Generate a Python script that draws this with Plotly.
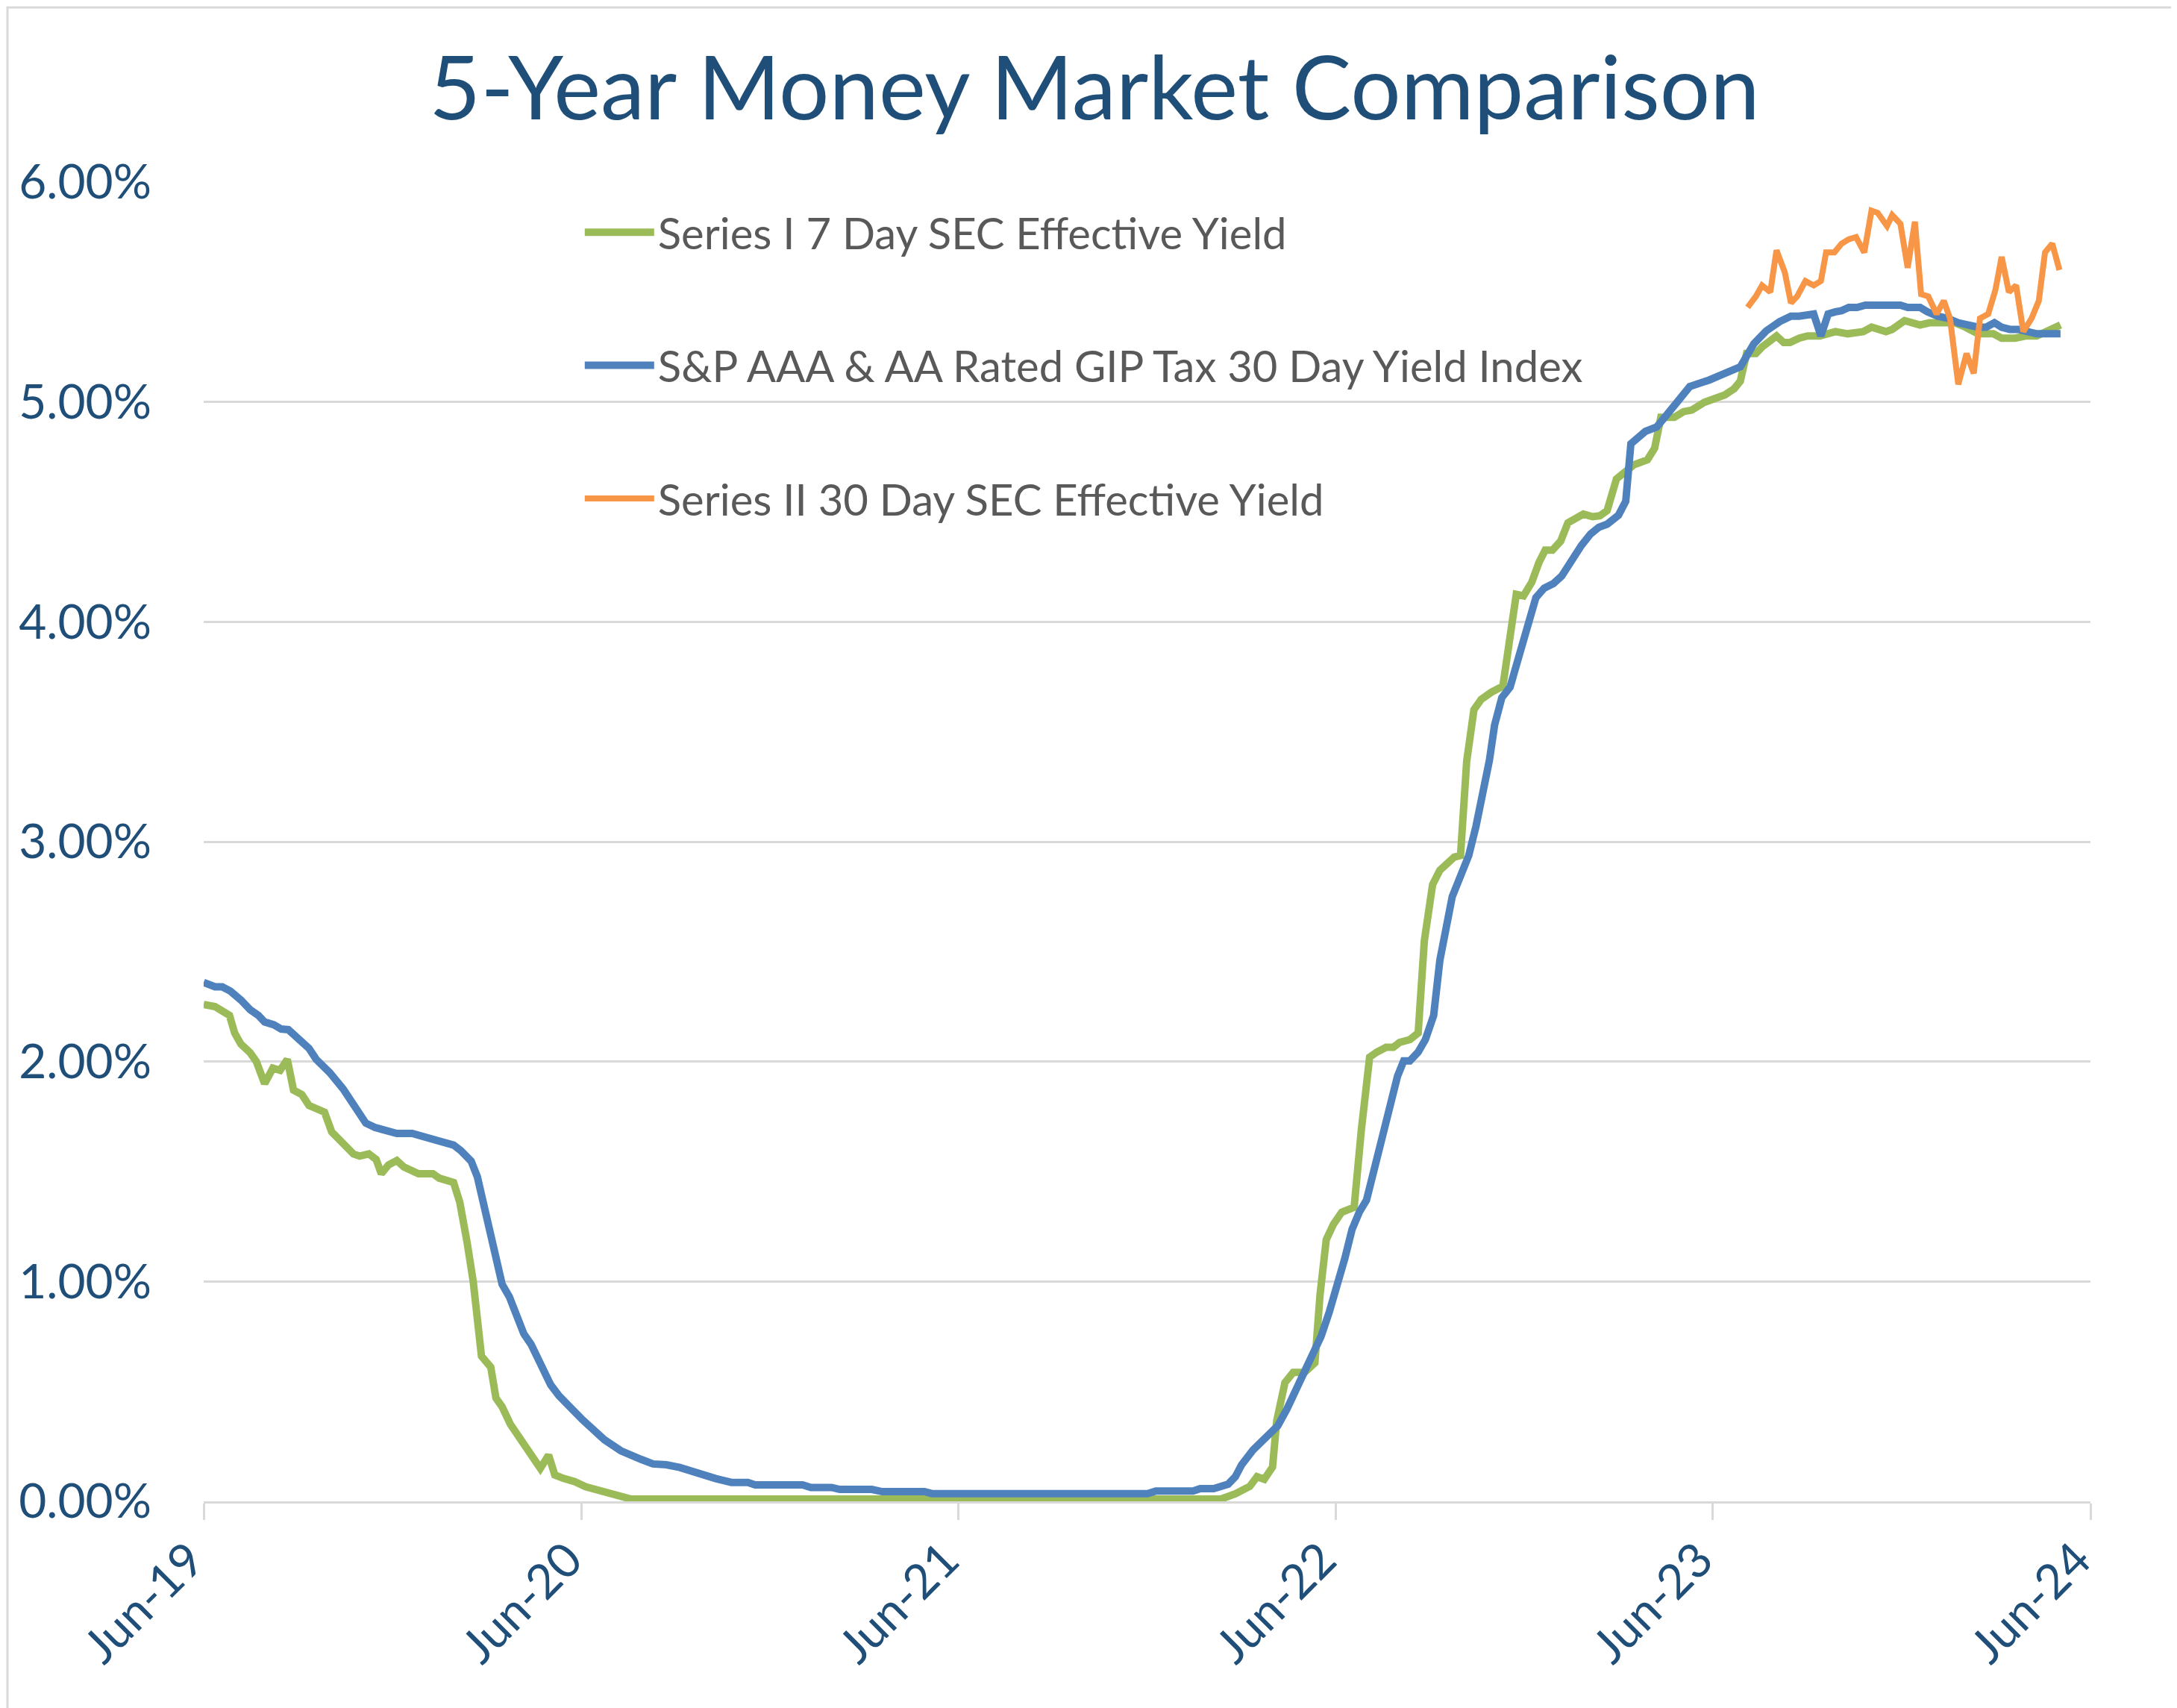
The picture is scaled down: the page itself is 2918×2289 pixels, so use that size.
import plotly.graph_objects as go

TITLE = "5-Year Money Market Comparison"

# x axis ticks
tick_dates = ["2019-06-01", "2020-06-01", "2021-06-01", "2022-06-01", "2023-06-01", "2024-06-01"]
tick_labels = ["Jun-19", "Jun-20", "Jun-21", "Jun-22", "Jun-23", "Jun-24"]

# Series I 7 Day SEC Effective Yield (%)
series1_dates = [
    "2019-06-01", "2019-06-12", "2019-06-19", "2019-06-26", "2019-07-01", "2019-07-07", "2019-07-16",
    "2019-07-22", "2019-07-30", "2019-08-07", "2019-08-14", "2019-08-21", "2019-08-27", "2019-09-04",
    "2019-09-11", "2019-09-18", "2019-09-26", "2019-10-03", "2019-10-11", "2019-10-24", "2019-10-30",
    "2019-11-08", "2019-11-15", "2019-11-20", "2019-11-27", "2019-12-05", "2019-12-12", "2019-12-18",
    "2019-12-26", "2020-01-09", "2020-01-15", "2020-01-29", "2020-02-04", "2020-02-11", "2020-02-17",
    "2020-02-25", "2020-03-05", "2020-03-10", "2020-03-16", "2020-03-24", "2020-04-08", "2020-04-22",
    "2020-04-30", "2020-05-06", "2020-05-14", "2020-05-25", "2020-06-05", "2020-06-28", "2020-07-14",
    "2020-07-19", "2022-02-10", "2022-02-24", "2022-03-10", "2022-03-17", "2022-03-24", "2022-04-01",
    "2022-04-05", "2022-04-13", "2022-04-21", "2022-05-02", "2022-05-12", "2022-05-17", "2022-05-23",
    "2022-05-30", "2022-06-07", "2022-06-19", "2022-06-26", "2022-07-04", "2022-07-11", "2022-07-20",
    "2022-07-27", "2022-08-02", "2022-08-12", "2022-08-20", "2022-08-26", "2022-09-03", "2022-09-10",
    "2022-09-17", "2022-09-24", "2022-09-30", "2022-10-06", "2022-10-13", "2022-10-20", "2022-10-30",
    "2022-11-10", "2022-11-16", "2022-11-23", "2022-11-30", "2022-12-08", "2022-12-15", "2022-12-21",
    "2022-12-28", "2023-01-05", "2023-01-12", "2023-01-27", "2023-02-05", "2023-02-12", "2023-02-19",
    "2023-02-28", "2023-03-08", "2023-03-17", "2023-03-30", "2023-04-06", "2023-04-12", "2023-04-25",
    "2023-05-04", "2023-05-12", "2023-05-24", "2023-06-03", "2023-06-13", "2023-06-22", "2023-06-28",
    "2023-07-04", "2023-07-13", "2023-07-19", "2023-07-25", "2023-08-02", "2023-08-09", "2023-08-15",
    "2023-08-24", "2023-09-01", "2023-09-13", "2023-09-28", "2023-10-10", "2023-10-25", "2023-11-02",
    "2023-11-16", "2023-11-22", "2023-12-04", "2023-12-19", "2023-12-28", "2024-01-09", "2024-01-22",
    "2024-02-01", "2024-02-13", "2024-02-28", "2024-03-07", "2024-03-20", "2024-03-30", "2024-04-10",
    "2024-04-22", "2024-05-03",
]
series1_yield = [
    2.26, 2.25, 2.23, 2.21, 2.13, 2.08, 2.04,
    2.00, 1.90, 1.97, 1.96, 2.01, 1.87, 1.85,
    1.80, 1.79, 1.77, 1.68, 1.64, 1.58, 1.57,
    1.58, 1.555, 1.49, 1.53, 1.55, 1.52, 1.51,
    1.49, 1.49, 1.47, 1.45, 1.36, 1.18, 1.00,
    0.66, 0.61, 0.47, 0.43, 0.35, 0.24, 0.15,
    0.21, 0.12, 0.105, 0.09, 0.066, 0.034, 0.015,
    0.01, 0.01, 0.034, 0.068, 0.112, 0.10, 0.156,
    0.365, 0.54, 0.586, 0.586, 0.63, 0.94, 1.19,
    1.26, 1.315, 1.337, 1.69, 2.02, 2.043, 2.065,
    2.065, 2.087, 2.10, 2.13, 2.55, 2.805, 2.87,
    2.905, 2.93, 2.937, 3.366, 3.60, 3.647, 3.68,
    3.707, 3.90, 4.125, 4.118, 4.18, 4.27, 4.326,
    4.326, 4.367, 4.45, 4.49, 4.478, 4.482, 4.506,
    4.65, 4.68, 4.714, 4.737, 4.79, 4.93, 4.93,
    4.956, 4.963, 4.998, 5.012, 5.032, 5.06, 5.095,
    5.22, 5.22, 5.25, 5.27, 5.30, 5.27, 5.27,
    5.29, 5.30, 5.30, 5.32, 5.31, 5.32, 5.34,
    5.32, 5.33, 5.37, 5.35, 5.36, 5.36, 5.36,
    5.34, 5.31, 5.31, 5.29, 5.29, 5.30, 5.30,
    5.33, 5.35,
]

# S&P AAA & AA Rated GIP Tax 30 Day Yield Index (%)
index_dates = [
    "2019-06-01", "2019-06-12", "2019-06-19", "2019-06-27", "2019-07-07", "2019-07-16", "2019-07-24",
    "2019-07-30", "2019-08-08", "2019-08-15", "2019-08-22", "2019-09-03", "2019-09-11", "2019-09-18",
    "2019-10-01", "2019-10-14", "2019-10-24", "2019-10-29", "2019-11-05", "2019-11-14", "2019-12-05",
    "2019-12-20", "2019-12-27", "2020-01-10", "2020-01-29", "2020-02-05", "2020-02-15", "2020-02-21",
    "2020-03-01", "2020-03-09", "2020-03-16", "2020-03-23", "2020-03-29", "2020-04-06", "2020-04-13",
    "2020-04-22", "2020-05-02", "2020-05-10", "2020-05-25", "2020-06-02", "2020-06-23", "2020-06-30",
    "2020-07-09", "2020-07-29", "2020-08-09", "2020-08-22", "2020-09-04", "2020-10-09", "2020-10-24",
    "2020-11-09", "2020-11-16", "2021-01-01", "2021-01-09", "2021-01-29", "2021-02-06", "2021-03-09",
    "2021-03-19", "2021-04-29", "2021-05-06", "2021-12-01", "2021-12-09", "2022-01-14", "2022-01-21",
    "2022-02-03", "2022-02-17", "2022-02-24", "2022-03-02", "2022-03-13", "2022-03-21", "2022-04-06",
    "2022-04-15", "2022-04-25", "2022-05-02", "2022-05-09", "2022-05-18", "2022-05-26", "2022-06-02",
    "2022-06-10", "2022-06-17", "2022-06-24", "2022-07-01", "2022-07-09", "2022-07-17", "2022-07-25",
    "2022-07-31", "2022-08-06", "2022-08-12", "2022-08-20", "2022-08-27", "2022-09-04", "2022-09-10",
    "2022-09-22", "2022-10-02", "2022-10-08", "2022-10-15", "2022-10-28", "2022-11-02", "2022-11-09",
    "2022-11-17", "2022-11-30", "2022-12-12", "2022-12-20", "2022-12-29", "2023-01-06", "2023-01-17",
    "2023-01-25", "2023-02-03", "2023-02-11", "2023-02-19", "2023-03-02", "2023-03-09", "2023-03-14",
    "2023-03-28", "2023-04-08", "2023-04-18", "2023-04-29", "2023-05-10", "2023-05-29", "2023-06-07",
    "2023-06-20", "2023-06-28", "2023-07-11", "2023-07-23", "2023-08-05", "2023-08-16", "2023-08-24",
    "2023-09-01", "2023-09-07", "2023-09-14", "2023-09-21", "2023-09-28", "2023-10-04", "2023-10-11",
    "2023-10-19", "2023-10-27", "2023-11-30", "2023-12-07", "2023-12-19", "2023-12-26", "2024-01-05",
    "2024-01-15", "2024-01-25", "2024-02-04", "2024-02-13", "2024-02-21", "2024-02-29", "2024-03-07",
    "2024-03-15", "2024-03-23", "2024-04-01", "2024-04-10", "2024-05-03",
]
index_yield = [
    2.36, 2.34, 2.34, 2.32, 2.28, 2.236, 2.21,
    2.18, 2.167, 2.148, 2.145, 2.09, 2.06, 2.01,
    1.95, 1.876, 1.81, 1.763, 1.72, 1.70, 1.673,
    1.673, 1.663, 1.643, 1.62, 1.595, 1.547, 1.476,
    1.30, 1.139, 0.987, 0.93, 0.858, 0.762, 0.714,
    0.626, 0.53, 0.48, 0.40, 0.37, 0.28, 0.26,
    0.23, 0.19, 0.17, 0.166, 0.154, 0.103, 0.086,
    0.086, 0.075, 0.075, 0.063, 0.063, 0.054, 0.054,
    0.044, 0.044, 0.035, 0.035, 0.047, 0.047, 0.058,
    0.058, 0.078, 0.112, 0.166, 0.233, 0.272, 0.343,
    0.42, 0.52, 0.608, 0.674, 0.75, 0.862, 0.97,
    1.105, 1.237, 1.315, 1.37, 1.513, 1.668, 1.827,
    1.933, 2.003, 2.003, 2.043, 2.10, 2.21, 2.46,
    2.75, 2.87, 2.937, 3.07, 3.37, 3.53, 3.655,
    3.703, 3.91, 4.11, 4.153, 4.174, 4.208, 4.29,
    4.347, 4.40, 4.43, 4.444, 4.485, 4.548, 4.81,
    4.866, 4.886, 4.943, 5.012, 5.07, 5.10, 5.12,
    5.143, 5.16, 5.264, 5.323, 5.365, 5.39, 5.39,
    5.40, 5.40, 5.30, 5.40, 5.41, 5.415, 5.43,
    5.43, 5.44, 5.44, 5.43, 5.43, 5.41, 5.39,
    5.38, 5.36, 5.35, 5.34, 5.34, 5.36, 5.34,
    5.33, 5.33, 5.32, 5.31, 5.31,
]

# Series II 30 Day SEC Effective Yield (%)
series2_dates = [
    "2023-07-05", "2023-07-13", "2023-07-19", "2023-07-27", "2023-08-02", "2023-08-10", "2023-08-16",
    "2023-08-22", "2023-08-30", "2023-09-07", "2023-09-14", "2023-09-19", "2023-09-27", "2023-10-04",
    "2023-10-11", "2023-10-18", "2023-10-26", "2023-11-02", "2023-11-08", "2023-11-17", "2023-11-22",
    "2023-11-30", "2023-12-07", "2023-12-14", "2023-12-20", "2023-12-27", "2024-01-04", "2024-01-11",
    "2024-01-17", "2024-01-25", "2024-02-02", "2024-02-09", "2024-02-15", "2024-02-23", "2024-03-01",
    "2024-03-07", "2024-03-14", "2024-03-21", "2024-03-28", "2024-04-05", "2024-04-12", "2024-04-18",
    "2024-04-25", "2024-05-02",
]
series2_yield = [
    5.43, 5.48, 5.53, 5.50, 5.69, 5.59, 5.45,
    5.48, 5.55, 5.53, 5.55, 5.68, 5.68, 5.72,
    5.74, 5.75, 5.68, 5.87, 5.86, 5.80, 5.85,
    5.81, 5.61, 5.82, 5.49, 5.48, 5.40, 5.46,
    5.38, 5.08, 5.22, 5.13, 5.38, 5.40, 5.51,
    5.66, 5.50, 5.53, 5.32, 5.38, 5.46, 5.68,
    5.72, 5.60,
]

GREEN = "#9BBB59"
BLUE = "#4F81BD"
ORANGE = "#F79646"
DARK_BLUE = "#1F4E79"
GRID = "#D9D9D9"
FONT = "Lato"

W, H = 2918, 2289
M_L, M_R, M_T, M_B = 265, 124, 236, 285

fig = go.Figure()
fig.add_trace(go.Scatter(x=series1_dates, y=series1_yield, mode="lines", name="Series I 7 Day SEC Effective Yield",
                         line=dict(color=GREEN, width=10), legendgroup="g1"))
fig.add_trace(go.Scatter(x=index_dates, y=index_yield, mode="lines",
                         name="S&P AAA & AA Rated GIP Tax 30 Day Yield Index",
                         line=dict(color=BLUE, width=10), legendgroup="g2"))
fig.add_trace(go.Scatter(x=series2_dates, y=series2_yield, mode="lines", name="Series II 30 Day SEC Effective Yield",
                         line=dict(color=ORANGE, width=8), legendgroup="g3"))

plot_w = W - M_L - M_R
plot_h = H - M_T - M_B

fig.update_layout(
    width=W,
    height=H,
    margin=dict(l=M_L, r=M_R, t=M_T, b=M_B),
    paper_bgcolor="white",
    plot_bgcolor="white",
    font=dict(family=FONT, color=DARK_BLUE),
    title=dict(text=TITLE, x=0.5, xanchor="center", y=0.952, yanchor="middle",
               font=dict(family=FONT, size=119, color=DARK_BLUE)),
    legend=dict(x=0.2, xanchor="left", y=0.987, yanchor="top", bgcolor="rgba(0,0,0,0)",
                font=dict(family=FONT, size=58, color="#595959"), traceorder="grouped",
                tracegroupgap=100, itemwidth=93),
    xaxis=dict(
        type="date",
        range=["2019-06-01", "2024-06-01"],
        tickvals=tick_dates,
        ticktext=tick_labels,
        tickangle=-45,
        tickfont=dict(family=FONT, size=64, color=DARK_BLUE),
        showgrid=False,
        showline=True,
        linecolor=GRID,
        linewidth=3,
        ticks="outside",
        ticklen=22,
        tickwidth=3,
        tickcolor=GRID,
        zeroline=False,
        ticklabelstandoff=-10,
        ticklabelshift=-18,
        layer="below traces",
    ),
    yaxis=dict(
        range=[0, 6],
        dtick=1,
        tickformat=".2f",
        ticksuffix="%",
        tickfont=dict(family=FONT, size=64, color=DARK_BLUE),
        showgrid=True,
        gridcolor=GRID,
        gridwidth=3,
        zeroline=False,
        showline=False,
        ticks="",
        ticklabelstandoff=69,
        layer="below traces",
    ),
)

# thin outer frame around the chart
fig.add_shape(type="rect", xref="paper", yref="paper",
              x0=(-M_L + 2) / plot_w, x1=1 + (M_R - 2) / plot_w,
              y0=(-M_B + 2) / plot_h, y1=1 + (M_T - 2) / plot_h,
              line=dict(color=GRID, width=3), fillcolor="rgba(0,0,0,0)", layer="below")

fig.write_html("out.html")
